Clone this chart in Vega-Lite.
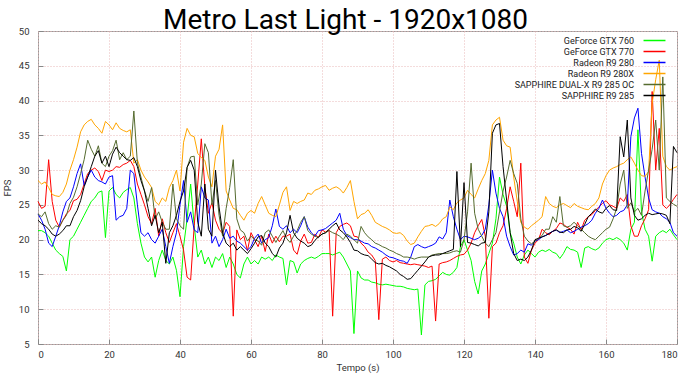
{
"$schema":"https://vega.github.io/schema/vega-lite/v6.json",
"width":639,"height":313,
"autosize":{"type":"none"},
"padding":{"left":38,"top":31,"right":13,"bottom":33},
"background":"white",
"title":{"text":"Metro Last Light - 1920x1080","font":"Roboto","fontSize":28,"fontWeight":"normal","color":"black","anchor":"middle","dx":-12,"offset":-9},
"config":{
"view":{"stroke":"#999","strokeWidth":1},
"axis":{"grid":true,"gridColor":"#e8b8b8","gridDash":[1,2],"gridWidth":1,"domain":false,"tickColor":"#888","tickSize":-5,"labelFont":"Roboto","labelFontSize":9.5,"labelColor":"#333","titleFont":"Roboto","titleFontSize":9.5,"titleFontWeight":"normal","titleColor":"#333"},
"legend":{"labelFont":"Roboto","labelFontSize":9,"labelColor":"#222"}
},
"data":{"values":[
{"t":0,"g":21.3,"r":25.5,"b":23.7,"o":28.5,"d":23.7,"k":22.8},
{"t":1,"g":21.3,"r":24.5,"b":22.8,"o":28,"d":23.3,"k":22.3},
{"t":2,"g":21,"r":24.8,"b":21.5,"o":28.3,"d":24,"k":22},
{"t":3,"g":20.5,"r":31.5,"b":19.5,"o":27.5,"d":22.3,"k":21.5},
{"t":4,"g":19.5,"r":25.5,"b":19,"o":26.5,"d":21.5,"k":20.8},
{"t":5,"g":18.5,"r":22.8,"b":20.5,"o":26.3,"d":22,"k":20.5},
{"t":6,"g":18,"r":21.8,"b":22,"o":26.2,"d":21.8,"k":20.8},
{"t":7,"g":17.6,"r":22.8,"b":24,"o":26.8,"d":22.8,"k":21.3},
{"t":8,"g":15.5,"r":23.7,"b":25.5,"o":28,"d":23.5,"k":22},
{"t":9,"g":20,"r":24.2,"b":26,"o":30,"d":25.2,"k":22},
{"t":10,"g":20.5,"r":25.6,"b":27.6,"o":31.5,"d":26.1,"k":23.3},
{"t":11,"g":21.5,"r":25.8,"b":29.5,"o":33.3,"d":27.6,"k":24.2},
{"t":12,"g":22.5,"r":26.5,"b":30.9,"o":35.5,"d":29.5,"k":25.6},
{"t":13,"g":23.5,"r":28,"b":27.8,"o":36.5,"d":31.5,"k":27.6},
{"t":14,"g":24.5,"r":29.5,"b":29,"o":37,"d":34.3,"k":29},
{"t":15,"g":25.5,"r":30,"b":30,"o":37.3,"d":33,"k":30.5},
{"t":16,"g":26,"r":30.3,"b":29,"o":36.5,"d":32,"k":32},
{"t":17,"g":26.8,"r":29.8,"b":28.5,"o":36,"d":33.5,"k":32.8},
{"t":18,"g":27,"r":28.5,"b":28.3,"o":35.3,"d":31,"k":31},
{"t":19,"g":20.3,"r":30,"b":28,"o":37,"d":30.5,"k":32},
{"t":20,"g":27,"r":29.8,"b":29,"o":36.5,"d":32,"k":30.5},
{"t":21,"g":27.5,"r":30,"b":29.2,"o":35.8,"d":32.8,"k":32.3},
{"t":22,"g":26.5,"r":30.5,"b":22.8,"o":36.8,"d":34.3,"k":33.3},
{"t":23,"g":26,"r":30.4,"b":23.3,"o":36,"d":31.5,"k":32.5},
{"t":24,"g":26.8,"r":30.8,"b":23.5,"o":35.7,"d":32.5,"k":32},
{"t":25,"g":27.2,"r":31,"b":24.5,"o":35.5,"d":31.5,"k":31.5},
{"t":26,"g":27.5,"r":31.4,"b":30,"o":35.8,"d":32,"k":31.4},
{"t":27,"g":26,"r":30.5,"b":29.5,"o":31,"d":38.5,"k":31.8},
{"t":28,"g":22.3,"r":28,"b":25,"o":31.5,"d":31,"k":30.5},
{"t":29,"g":19.5,"r":26.5,"b":21,"o":30,"d":29,"k":28.5},
{"t":30,"g":17.5,"r":25,"b":20.5,"o":29,"d":27,"k":27},
{"t":31,"g":16.8,"r":23.3,"b":21,"o":28.3,"d":25.5,"k":24.5},
{"t":32,"g":17.5,"r":22.3,"b":20,"o":27.5,"d":27.5,"k":22},
{"t":33,"g":14.6,"r":24.5,"b":19.5,"o":25.5,"d":23,"k":23.5},
{"t":34,"g":17,"r":20.5,"b":20.5,"o":25,"d":24,"k":21},
{"t":35,"g":18.5,"r":23,"b":21.5,"o":26,"d":22.5,"k":22.5},
{"t":36,"g":17,"r":21,"b":19,"o":25.5,"d":21.5,"k":16.6},
{"t":37,"g":16.5,"r":19.6,"b":16.6,"o":27.5,"d":21.5,"k":21},
{"t":38,"g":17.5,"r":21,"b":19,"o":28.5,"d":28,"k":22},
{"t":39,"g":15.6,"r":22.3,"b":21,"o":30,"d":23,"k":23.5},
{"t":40,"g":11.8,"r":20.5,"b":25,"o":27,"d":22,"k":25.5},
{"t":41,"g":19,"r":18.5,"b":28.5,"o":34,"d":21.5,"k":27},
{"t":42,"g":23,"r":14.6,"b":22.5,"o":36,"d":30.4,"k":30.4},
{"t":43,"g":28,"r":14.2,"b":24,"o":35,"d":31.9,"k":31.4},
{"t":44,"g":22,"r":22,"b":21.4,"o":34.8,"d":32,"k":30},
{"t":45,"g":17.5,"r":28,"b":21,"o":32.4,"d":25,"k":22.5},
{"t":46,"g":18.5,"r":34.5,"b":27.6,"o":31.8,"d":28,"k":20.5},
{"t":47,"g":16.5,"r":27.6,"b":26,"o":31.4,"d":33.8,"k":28},
{"t":48,"g":17.5,"r":23.8,"b":25.7,"o":29,"d":32.5,"k":21.5},
{"t":49,"g":16,"r":25.3,"b":19.5,"o":27.6,"d":25,"k":20.5},
{"t":50,"g":17.5,"r":22.8,"b":20.5,"o":32,"d":28.5,"k":30},
{"t":51,"g":17,"r":21.5,"b":19,"o":33,"d":23.5,"k":24.7},
{"t":52,"g":18,"r":20.9,"b":20,"o":36.5,"d":20.5,"k":21},
{"t":53,"g":16,"r":22.5,"b":21.5,"o":27,"d":24.5,"k":19.5},
{"t":54,"g":17.5,"r":21.9,"b":20.2,"o":25.7,"d":27.5,"k":19},
{"t":55,"g":16.5,"r":9,"b":20.5,"o":24.5,"d":31.5,"k":19.5},
{"t":56,"g":15,"r":21.4,"b":19.8,"o":24.3,"d":23,"k":18.5},
{"t":57,"g":14.5,"r":20,"b":19.5,"o":23.5,"d":21.4,"k":19},
{"t":58,"g":16.5,"r":20.5,"b":19,"o":22.8,"d":21,"k":18.5},
{"t":59,"g":17.5,"r":18.4,"b":18.5,"o":23.8,"d":19.8,"k":18},
{"t":60,"g":16.5,"r":21,"b":19,"o":24.2,"d":20.5,"k":18.7},
{"t":61,"g":17,"r":20,"b":20.2,"o":23.8,"d":20,"k":19.5},
{"t":62,"g":16.5,"r":19,"b":20.8,"o":25.2,"d":19.8,"k":20.4},
{"t":63,"g":17.5,"r":20.5,"b":19.5,"o":26.2,"d":19.2,"k":20.6},
{"t":64,"g":17.2,"r":18.3,"b":20,"o":25,"d":21,"k":19.5},
{"t":65,"g":17.5,"r":20.8,"b":20.3,"o":23.8,"d":21.4,"k":19},
{"t":66,"g":17,"r":19.5,"b":22,"o":23.5,"d":20.5,"k":18},
{"t":67,"g":17.8,"r":20.5,"b":24.4,"o":23.3,"d":19.6,"k":17.5},
{"t":68,"g":17.5,"r":19.7,"b":21.9,"o":25,"d":20.5,"k":18.8},
{"t":69,"g":17.3,"r":20.5,"b":21.5,"o":26.8,"d":21.3,"k":19.5},
{"t":70,"g":13.5,"r":20.5,"b":22,"o":27.6,"d":20.2,"k":21},
{"t":71,"g":17,"r":20.8,"b":21,"o":24.2,"d":19.6,"k":23.5},
{"t":72,"g":16.8,"r":18.5,"b":21.5,"o":25.5,"d":20.5,"k":21},
{"t":73,"g":15.2,"r":17.9,"b":21,"o":25.2,"d":21.3,"k":20.2},
{"t":74,"g":16.5,"r":19.8,"b":22,"o":25.5,"d":22.5,"k":19.8},
{"t":75,"g":17,"r":20.8,"b":23.3,"o":25.7,"d":23.3,"k":19.5},
{"t":76,"g":17.3,"r":19.5,"b":21.8,"o":26.7,"d":21.3,"k":19},
{"t":77,"g":17.5,"r":19.6,"b":21,"o":26.5,"d":20.8,"k":19.2},
{"t":78,"g":17.3,"r":20.8,"b":20.5,"o":27.1,"d":20.5,"k":19.9},
{"t":79,"g":17.6,"r":20.3,"b":21.3,"o":27.3,"d":20.3,"k":20.4},
{"t":80,"g":18,"r":21.4,"b":21.4,"o":27.6,"d":20.8,"k":20.8},
{"t":81,"g":18,"r":21.1,"b":21.6,"o":27.8,"d":21,"k":21},
{"t":82,"g":18,"r":21.4,"b":22,"o":27.1,"d":21.3,"k":21.5},
{"t":83,"g":17.8,"r":9,"b":22.4,"o":27.4,"d":21,"k":22},
{"t":84,"g":18,"r":21,"b":22.8,"o":27.6,"d":20.8,"k":22.4},
{"t":85,"g":18.2,"r":21.9,"b":23.8,"o":27.3,"d":20.5,"k":21.4},
{"t":86,"g":17.5,"r":22.2,"b":21.5,"o":26.7,"d":20,"k":21},
{"t":87,"g":16.5,"r":22.4,"b":20.6,"o":27.5,"d":20.8,"k":20.4},
{"t":88,"g":15.5,"r":22,"b":20.3,"o":28.5,"d":20.5,"k":19.6},
{"t":89,"g":6.5,"r":20.5,"b":20,"o":25.5,"d":20,"k":18.5},
{"t":90,"g":15.5,"r":20.4,"b":20,"o":23,"d":19.5,"k":18.4},
{"t":91,"g":14.5,"r":19.5,"b":19.8,"o":23.6,"d":21.9,"k":18},
{"t":92,"g":14.2,"r":19,"b":19.5,"o":23.8,"d":21,"k":17.8},
{"t":93,"g":14.2,"r":18.2,"b":19.4,"o":24.3,"d":20.4,"k":17.7},
{"t":94,"g":13.9,"r":17.8,"b":19,"o":23.5,"d":20,"k":17.2},
{"t":95,"g":13.8,"r":17,"b":18.8,"o":22.5,"d":19.5,"k":16.7},
{"t":96,"g":13.6,"r":8.5,"b":18.5,"o":22.2,"d":19.3,"k":16.5},
{"t":97,"g":13.5,"r":17.2,"b":18.2,"o":21.9,"d":19,"k":16.6},
{"t":98,"g":13.6,"r":17.5,"b":17.8,"o":21.7,"d":18.8,"k":16.3},
{"t":99,"g":13.5,"r":17,"b":17.5,"o":21.4,"d":18.5,"k":16.1},
{"t":100,"g":13.4,"r":16.8,"b":17.4,"o":21,"d":18.3,"k":15.8},
{"t":101,"g":13.3,"r":17,"b":17.2,"o":20.9,"d":18,"k":15.5},
{"t":102,"g":13.3,"r":16.7,"b":17,"o":21,"d":17.8,"k":15},
{"t":103,"g":13.2,"r":16.6,"b":16.9,"o":20.6,"d":17.5,"k":14.7},
{"t":104,"g":13,"r":16.5,"b":16.6,"o":19.8,"d":17.5,"k":14.3},
{"t":105,"g":12.9,"r":16.4,"b":17.5,"o":19.3,"d":17.4,"k":14.4},
{"t":106,"g":12.8,"r":16.5,"b":19,"o":19.5,"d":17.2,"k":15},
{"t":107,"g":12.9,"r":16.4,"b":19.3,"o":20.4,"d":17.4,"k":15.6},
{"t":108,"g":6.3,"r":16.3,"b":19,"o":21.2,"d":17.5,"k":16.2},
{"t":109,"g":13.5,"r":16.2,"b":18.8,"o":21.9,"d":17.5,"k":16.8},
{"t":110,"g":14,"r":16,"b":19,"o":22,"d":17.5,"k":17.5},
{"t":111,"g":14.1,"r":16.2,"b":19.2,"o":22.2,"d":17.8,"k":17.7},
{"t":112,"g":14.3,"r":8.3,"b":19.5,"o":21.9,"d":17.9,"k":17.8},
{"t":113,"g":14.8,"r":16.5,"b":20.4,"o":22.3,"d":18,"k":17.8},
{"t":114,"g":15.3,"r":16.7,"b":20.1,"o":23,"d":18,"k":18},
{"t":115,"g":15,"r":16.8,"b":21,"o":23.3,"d":18,"k":18.2},
{"t":116,"g":14.9,"r":17,"b":25.7,"o":24.7,"d":18.1,"k":18.4},
{"t":117,"g":15.3,"r":17.3,"b":23.3,"o":24.3,"d":18.3,"k":18.6},
{"t":118,"g":16,"r":17.6,"b":21.5,"o":25.3,"d":18.4,"k":29.8},
{"t":119,"g":19,"r":17.8,"b":20,"o":25.7,"d":18.2,"k":19},
{"t":120,"g":20,"r":17.9,"b":20.5,"o":26,"d":20,"k":28.2},
{"t":121,"g":18.5,"r":18.5,"b":20.4,"o":27.1,"d":24,"k":19.6},
{"t":122,"g":17,"r":19.5,"b":20.2,"o":26.5,"d":31,"k":19.5},
{"t":123,"g":14,"r":21,"b":20,"o":26,"d":23.8,"k":19.3},
{"t":124,"g":12.2,"r":22,"b":20.2,"o":27.3,"d":21.5,"k":19.1},
{"t":125,"g":15.5,"r":22.9,"b":20.6,"o":28.5,"d":20.5,"k":19.5},
{"t":126,"g":16.5,"r":20.5,"b":21.5,"o":29.5,"d":19.5,"k":19.6},
{"t":127,"g":18,"r":8.7,"b":25,"o":31.4,"d":19,"k":24},
{"t":128,"g":19.5,"r":19,"b":30,"o":36.5,"d":20,"k":35.3},
{"t":129,"g":23,"r":19.5,"b":26.7,"o":37.2,"d":21,"k":36.5},
{"t":130,"g":29,"r":21,"b":24.5,"o":37.6,"d":24,"k":36.7},
{"t":131,"g":26.5,"r":22,"b":23.3,"o":34.3,"d":27,"k":30.5},
{"t":132,"g":24.8,"r":24.5,"b":20.5,"o":33.5,"d":29,"k":25.7},
{"t":133,"g":21,"r":27.6,"b":19,"o":33.3,"d":31.4,"k":21},
{"t":134,"g":19.5,"r":25.5,"b":17.8,"o":29,"d":29.5,"k":18},
{"t":135,"g":17.5,"r":23.3,"b":18,"o":25.5,"d":28.1,"k":17},
{"t":136,"g":16.5,"r":31,"b":18.5,"o":22.5,"d":23,"k":17.2},
{"t":137,"g":17.8,"r":17.5,"b":18.2,"o":21.8,"d":20.5,"k":17},
{"t":138,"g":18.5,"r":16.6,"b":19.4,"o":21.5,"d":19.8,"k":17.5},
{"t":139,"g":18,"r":18.5,"b":19.2,"o":22,"d":19.4,"k":18.5},
{"t":140,"g":17.5,"r":19.5,"b":19.8,"o":22.4,"d":19.8,"k":20},
{"t":141,"g":18.2,"r":20,"b":20,"o":22.8,"d":20.2,"k":20.2},
{"t":142,"g":18.5,"r":21.5,"b":20.4,"o":23.3,"d":20.6,"k":20.4},
{"t":143,"g":18.3,"r":21,"b":20.6,"o":26.2,"d":21.5,"k":20.6},
{"t":144,"g":18.6,"r":20.7,"b":20.9,"o":25.2,"d":21.5,"k":20.9},
{"t":145,"g":18.2,"r":21.2,"b":21.2,"o":24.8,"d":23.3,"k":21.2},
{"t":146,"g":18,"r":21.6,"b":21.4,"o":24.6,"d":22.5,"k":21.4},
{"t":147,"g":17.3,"r":22.4,"b":21,"o":25,"d":26.2,"k":21.1},
{"t":148,"g":18,"r":22.2,"b":21.2,"o":25.2,"d":22,"k":21},
{"t":149,"g":19,"r":21.8,"b":21.4,"o":24.9,"d":21.8,"k":21.4},
{"t":150,"g":18.6,"r":21.5,"b":21,"o":24.6,"d":22,"k":21.5},
{"t":151,"g":18.5,"r":20.8,"b":21.2,"o":25.2,"d":22.5,"k":21.9},
{"t":152,"g":18.2,"r":22.5,"b":21.5,"o":24.8,"d":22,"k":21.7},
{"t":153,"g":16,"r":21.4,"b":21.8,"o":24.6,"d":21.5,"k":21.2},
{"t":154,"g":18.8,"r":22.8,"b":22,"o":24.4,"d":21,"k":22.2},
{"t":155,"g":19,"r":23.3,"b":22.3,"o":24.3,"d":20.5,"k":23.3},
{"t":156,"g":18.7,"r":23.6,"b":22.8,"o":24.8,"d":20.2,"k":23.8},
{"t":157,"g":18.5,"r":24.2,"b":23.8,"o":25.2,"d":20,"k":24.4},
{"t":158,"g":18.8,"r":24.7,"b":24.5,"o":26,"d":20.5,"k":24},
{"t":159,"g":19.5,"r":25.2,"b":25.7,"o":28,"d":21,"k":23.8},
{"t":160,"g":20,"r":25.6,"b":24.5,"o":29.2,"d":21.5,"k":24.5},
{"t":161,"g":20.2,"r":25,"b":23.8,"o":30,"d":21.8,"k":24.9},
{"t":162,"g":20,"r":24.8,"b":23.3,"o":30.3,"d":23,"k":24.3},
{"t":163,"g":20.3,"r":24.5,"b":23.5,"o":30.5,"d":24.5,"k":24.2},
{"t":164,"g":20,"r":26,"b":24,"o":30.8,"d":28,"k":34.8},
{"t":165,"g":19.5,"r":25.5,"b":24.2,"o":31,"d":30,"k":31.9},
{"t":166,"g":18.5,"r":26.5,"b":25,"o":31.5,"d":24.5,"k":37.2},
{"t":167,"g":21.5,"r":22,"b":34.8,"o":31.9,"d":25.3,"k":26},
{"t":168,"g":22.5,"r":20.5,"b":37.5,"o":31,"d":24,"k":23.5},
{"t":169,"g":35.8,"r":20.5,"b":38.9,"o":30,"d":24.5,"k":22.8},
{"t":170,"g":24,"r":22,"b":32.4,"o":29.2,"d":23.5,"k":23},
{"t":171,"g":21.5,"r":23,"b":29,"o":29.1,"d":27,"k":23.5},
{"t":172,"g":20.5,"r":24.3,"b":26,"o":29.8,"d":30,"k":23.8},
{"t":173,"g":16.9,"r":41.3,"b":24.3,"o":39.6,"d":33,"k":23.6},
{"t":174,"g":20.5,"r":30,"b":24,"o":43,"d":37.2,"k":23.7},
{"t":175,"g":21,"r":36,"b":23.8,"o":45.8,"d":30,"k":23.8},
{"t":176,"g":21.3,"r":25,"b":23.3,"o":32,"d":43.4,"k":23.7},
{"t":177,"g":21,"r":24.5,"b":23,"o":30.5,"d":26,"k":23.5},
{"t":178,"g":21.5,"r":25,"b":22.5,"o":30,"d":25.5,"k":22.3},
{"t":179,"g":20.7,"r":25.8,"b":21,"o":30.3,"d":25.1,"k":33.4},
{"t":180,"g":20,"r":26.5,"b":20.5,"o":30.5,"d":24.8,"k":32.5}
]},
"transform":[
{"fold":["g","r","b","o","d","k"],"as":["key","fps"]},
{"lookup":"key","from":{"data":{"values":[
{"key":"g","name":"GeForce GTX 760"},
{"key":"r","name":"GeForce GTX 770"},
{"key":"b","name":"Radeon R9 280"},
{"key":"o","name":"Radeon R9 280X"},
{"key":"d","name":"SAPPHIRE DUAL-X R9 285 OC"},
{"key":"k","name":"SAPPHIRE R9 285"}]},"key":"key","fields":["name"]}}
],
"mark":{"type":"line","strokeWidth":1},
"encoding":{
"x":{"field":"t","type":"quantitative","scale":{"domain":[0,180],"nice":false,"zero":false},
 "axis":{"values":[0,20,40,60,80,100,120,140,160,180],"title":"Tempo (s)","labelPadding":10,"titlePadding":4}},
"y":{"field":"fps","type":"quantitative","scale":{"domain":[5,50],"nice":false,"zero":false},
 "axis":{"values":[5,10,15,20,25,30,35,40,45,50],"title":"FPS","labelPadding":14,"titlePadding":6}},
"color":{"field":"name","type":"nominal",
 "scale":{"domain":["GeForce GTX 760","GeForce GTX 770","Radeon R9 280","Radeon R9 280X","SAPPHIRE DUAL-X R9 285 OC","SAPPHIRE R9 285"],
  "range":["#00ff00","#ff0000","#0000ff","#ffa500","#556b2f","#000000"]},
 "legend":{"title":null,"orient":"none","legendX":611,"legendY":4,"padding":0,"symbolType":"M-2.44,0H2.44","symbolSize":81,"symbolStrokeWidth":1.5,"labelAlign":"right","labelOffset":-26,"rowPadding":-0.8}}
}
}
